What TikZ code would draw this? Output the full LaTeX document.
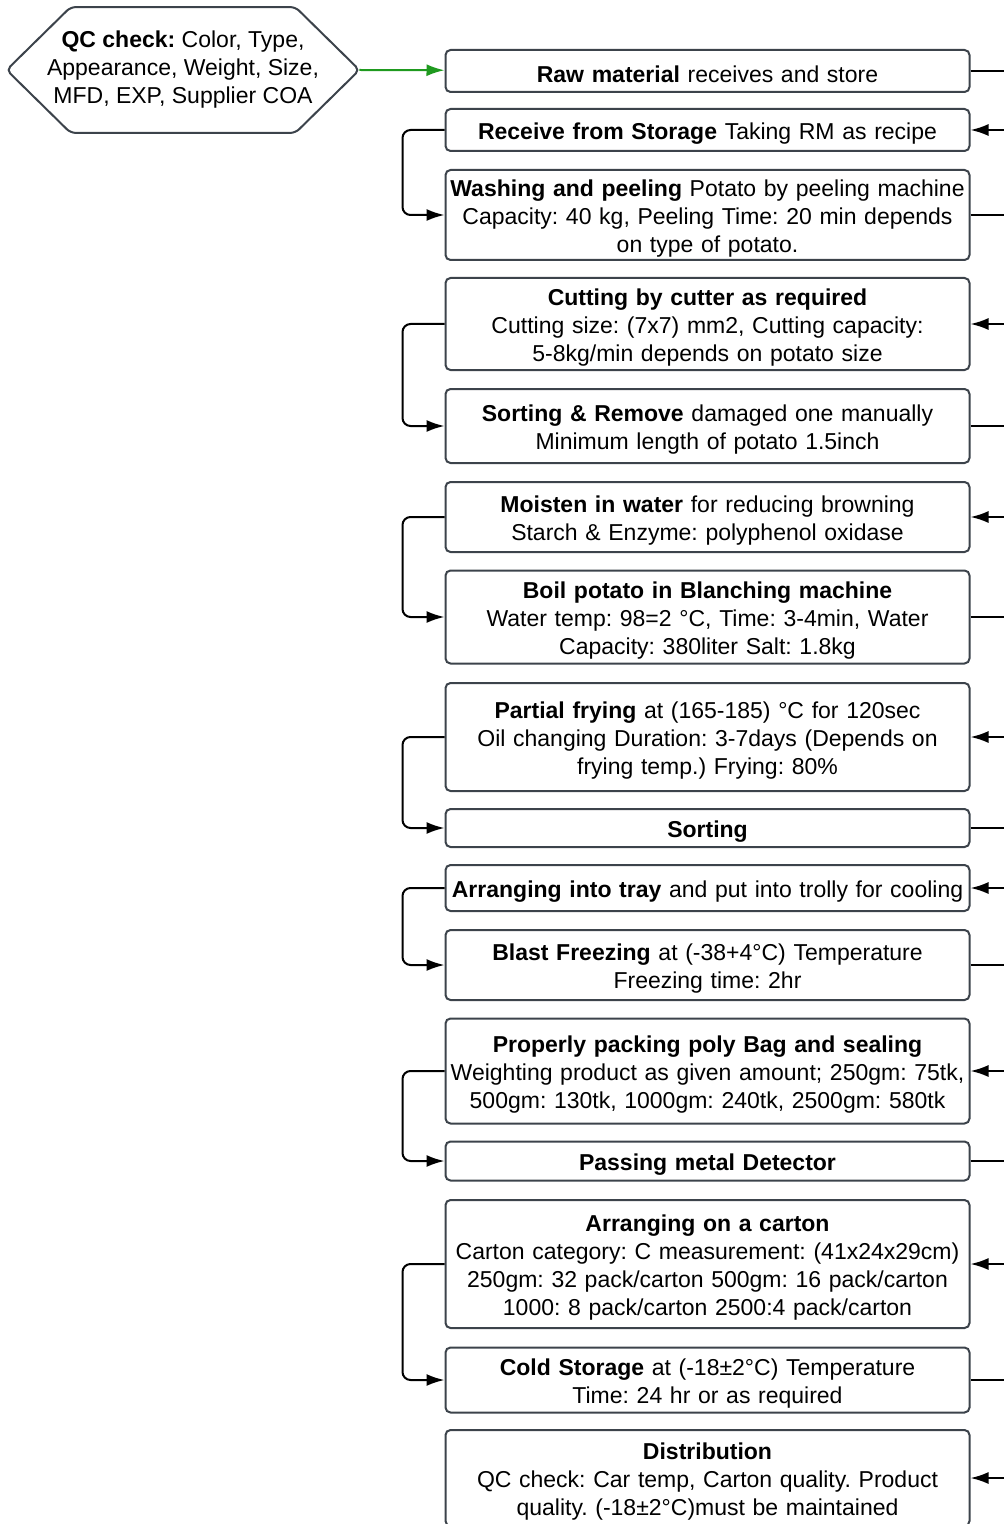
\documentclass[tikz,border=0pt]{standalone}
\usepackage{fontspec}
\setmainfont{Liberation Sans}
\usetikzlibrary{arrows.meta}

\definecolor{boxline}{HTML}{3C434B}
\definecolor{qcgreen}{HTML}{1F9A1F}

\tikzset{
    arr/.style={-{Latex[length=9pt,width=6pt]}, line width=1pt},
    plain/.style={line width=1pt},
}

\begin{document}
\frenchspacing
\begin{tikzpicture}[x=0.5pt,y=-0.5pt]
        \useasboundingbox (0,0) rectangle (1003,1524);

        \node[minimum width=176pt, minimum height=62.5pt, inner sep=0pt,
              align=center, font=\fontsize{11.5}{14}\selectfont] (qc) at (183,70)
              {\textbf{QC check:} Color, Type,\\Appearance, Weight, Size,\\MFD, EXP, Supplier COA};
        % hexagon round the QC text
        \draw[boxline, line width=1pt, rounded corners=2.5pt]
            (qc.west) -- ([xshift=32pt]qc.north west) -- ([xshift=-32pt]qc.north east)
            -- (qc.east) -- ([xshift=-32pt]qc.south east) -- ([xshift=32pt]qc.south west) -- cycle;

        \begin{scope}[every node/.style={draw=boxline, line width=1pt, rounded corners=2.5pt,
                      text width=260pt, inner xsep=1pt, inner ysep=1pt, align=center,
                      execute at begin node={\rule{0pt}{11.5pt}},
                      font=\fontsize{11.5}{14}\selectfont}]

            \node[minimum height=21pt] (raw) at (707.5,71) {\textbf{Raw material} receives and store};
            \node[minimum height=21pt] (recv) at (707.5,130) {\textbf{Receive from Storage} Taking RM as recipe};
            \node[minimum height=45pt] (wash) at (707.5,215) {\textbf{Washing and peeling} Potato by peeling machine\\Capacity: 40 kg, Peeling Time: 20 min depends\\on type of potato.};
            \node[minimum height=46pt] (cut) at (707.5,324) {\textbf{Cutting by cutter as required}\\Cutting size: (7x7) mm2, Cutting capacity:\\5-8kg/min depends on potato size};
            \node[minimum height=37pt] (sort1) at (707.5,426) {\textbf{Sorting \& Remove} damaged one manually\\Minimum length of potato 1.5inch};
            \node[minimum height=35pt] (moist) at (707.5,517) {\textbf{Moisten in water} for reducing browning\\Starch \& Enzyme: polyphenol oxidase};
            \node[minimum height=46.5pt] (boil) at (707.5,617) {\textbf{Boil potato in Blanching machine}\\Water temp: 98=2 °C, Time: 3-4min, Water\\Capacity: 380liter Salt: 1.8kg};
            \node[minimum height=54pt] (fry) at (707.5,737) {\textbf{Partial frying} at (165-185) °C for 120sec\\Oil changing Duration: 3-7days (Depends on\\frying temp.) Frying: 80\%};
            \node[minimum height=19pt] (sort2) at (707.5,828) {\textbf{Sorting}};
            \node[minimum height=23pt] (tray) at (707.5,888) {\textbf{Arranging into tray} and put into trolly for cooling};
            \node[minimum height=35pt] (blast) at (707.5,965) {\textbf{Blast Freezing} at (-38+4°C) Temperature\\Freezing time: 2hr};
            \node[minimum height=52.5pt] (pack) at (707.5,1071) {\textbf{Properly packing poly Bag and sealing}\\Weighting product as given amount; 250gm: 75tk,\\500gm: 130tk, 1000gm: 240tk, 2500gm: 580tk};
            \node[minimum height=19.5pt] (metal) at (707.5,1161) {\textbf{Passing metal Detector}};
            \node[minimum height=64pt] (carton) at (707.5,1264) {\textbf{Arranging on a carton}\\Carton category: C measurement: (41x24x29cm)\\250gm: 32 pack/carton 500gm: 16 pack/carton\\1000: 8 pack/carton 2500:4 pack/carton};
            \node[minimum height=32.5pt] (cold) at (707.5,1380) {\textbf{Cold Storage} at (-18±2°C) Temperature\\Time: 24 hr or as required};
            \node[minimum height=48pt] (dist) at (707.5,1478) {\textbf{Distribution}\\QC check: Car temp, Carton quality. Product\\quality. (-18±2°C)must be maintained};

        \end{scope}

        % ends running off to the right
        \coordinate (r1) at (1012,71);
        \coordinate (r2) at (1012,130);
        \coordinate (r3) at (1012,215);
        \coordinate (r4) at (1012,324);
        \coordinate (r5) at (1012,426);
        \coordinate (r6) at (1012,517);
        \coordinate (r7) at (1012,617);
        \coordinate (r8) at (1012,737);
        \coordinate (r9) at (1012,828);
        \coordinate (r10) at (1012,888);
        \coordinate (r11) at (1012,965);
        \coordinate (r12) at (1012,1071);
        \coordinate (r13) at (1012,1161);
        \coordinate (r14) at (1012,1264);
        \coordinate (r15) at (1012,1380);
        \coordinate (r16) at (1012,1478);

        \path (qc.east) edge[arr, qcgreen] (raw);

        \path (raw) edge[plain] (r1);
        \path (r2) edge[arr] (recv);
        \path (wash) edge[plain] (r3);
        \path (r4) edge[arr] (cut);
        \path (sort1) edge[plain] (r5);
        \path (r6) edge[arr] (moist);
        \path (boil) edge[plain] (r7);
        \path (r8) edge[arr] (fry);
        \path (sort2) edge[plain] (r9);
        \path (r10) edge[arr] (tray);
        \path (blast) edge[plain] (r11);
        \path (r12) edge[arr] (pack);
        \path (metal) edge[plain] (r13);
        \path (r14) edge[arr] (carton);
        \path (cold) edge[plain] (r15);
        \path (r16) edge[arr] (dist);

        \draw[arr, rounded corners=4pt] (recv.west) -- ++(-42,0) |- (wash.west);
        \draw[arr, rounded corners=4pt] (cut.west) -- ++(-42,0) |- (sort1.west);
        \draw[arr, rounded corners=4pt] (moist.west) -- ++(-42,0) |- (boil.west);
        \draw[arr, rounded corners=4pt] (fry.west) -- ++(-42,0) |- (sort2.west);
        \draw[arr, rounded corners=4pt] (tray.west) -- ++(-42,0) |- (blast.west);
        \draw[arr, rounded corners=4pt] (pack.west) -- ++(-42,0) |- (metal.west);
        \draw[arr, rounded corners=4pt] (carton.west) -- ++(-42,0) |- (cold.west);
    \end{tikzpicture}
\end{document}
